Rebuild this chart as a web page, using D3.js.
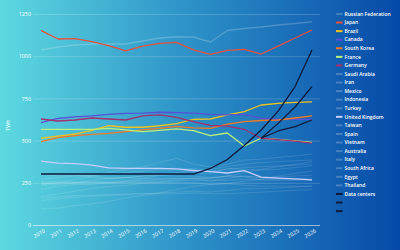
<!DOCTYPE html>
<html>
  <head>
    <script src="https://d3js.org/d3.v7.min.js"></script>
    <style>
      body { margin: 0; background: #0b4ea8; }
      text { font-family: "Open Sans", sans-serif; fill: #ffffff; }
    </style>
  </head>
  <body>
    <div id="chart"></div>
  <script>
    var width = 400,
        height = 250;

    // years on the x axis
    var years = d3.range(2010, 2027);
    var yTicks = [0, 250, 500, 750, 1000, 1250];

    // TWh per country, 2010 -> 2026
    var russia      = [1037, 1054, 1066, 1072, 1072, 1072, 1090, 1108, 1115, 1114, 1084, 1152, 1164, 1173, 1185, 1194, 1204];
    var japan       = [1153, 1102, 1104, 1086, 1062, 1031, 1060, 1076, 1082, 1037, 1011, 1035, 1040, 1013, 1060, 1108, 1155];
    var brazil      = [514, 527, 539, 560, 588, 579, 579, 588, 601, 626, 628, 652, 672, 711, 720, 726, 730];
    var canada      = [606, 631, 640, 646, 655, 661, 663, 668, 666, 663, 655, 652, 655, 631, 626, 626, 626];
    var southKorea  = [494, 518, 530, 537, 543, 553, 563, 572, 584, 575, 573, 598, 613, 619, 622, 634, 646];
    var france      = [567, 567, 566, 566, 573, 563, 553, 561, 569, 559, 530, 545, 468, 514, 507, 498, 490];
    var germany     = [628, 616, 622, 634, 628, 622, 646, 652, 638, 612, 590, 586, 567, 514, 506, 497, 485];
    var saudiArabia = [240, 250, 270, 290, 310, 330, 345, 370, 395, 360, 345, 360, 385, 390, 400, 410, 420];
    var iran        = [235, 240, 250, 265, 275, 280, 290, 300, 310, 320, 330, 345, 360, 370, 375, 380, 385];
    var mexico      = [270, 280, 290, 295, 300, 310, 320, 330, 330, 335, 320, 330, 340, 345, 350, 355, 360];
    var indonesia   = [170, 183, 200, 216, 228, 234, 248, 254, 267, 278, 274, 290, 310, 330, 345, 360, 375];
    var turkey      = [210, 230, 240, 240, 250, 260, 275, 295, 305, 305, 305, 335, 330, 325, 330, 340, 350];
    var uk          = [379, 367, 364, 355, 338, 336, 336, 335, 332, 323, 316, 308, 322, 284, 278, 273, 267];
    var taiwan      = [245, 250, 250, 255, 260, 260, 265, 270, 275, 275, 280, 290, 290, 280, 285, 290, 295];
    var spain       = [300, 290, 295, 280, 275, 280, 275, 275, 275, 275, 260, 275, 290, 280, 275, 275, 280];
    var vietnam     = [95, 100, 115, 125, 140, 160, 175, 190, 210, 230, 240, 245, 260, 270, 290, 305, 320];
    var australia   = [250, 250, 250, 250, 250, 255, 260, 260, 260, 265, 265, 265, 270, 270, 270, 270, 270];
    var italy       = [300, 300, 300, 290, 280, 280, 290, 295, 290, 290, 280, 290, 285, 265, 265, 265, 265];
    var southAfrica = [255, 260, 255, 255, 250, 250, 250, 250, 250, 250, 240, 245, 235, 230, 230, 230, 230];
    var egypt       = [145, 155, 165, 170, 175, 180, 185, 190, 195, 200, 195, 205, 215, 215, 220, 225, 230];
    var thailand    = [160, 165, 175, 175, 180, 185, 185, 185, 185, 190, 185, 185, 190, 195, 200, 205, 210];
    var dataCenters = [302, 302, 302, 302, 302, 302, 302, 302, 302, 302, 335, 388, 471, 563, 675, 820, 1037];
    // two further data-center paths, 2023 -> 2026
    var dcYears = [2023, 2024, 2025, 2026];
    var dataCentersMid = [514, 602, 699, 820];
    var dataCentersLow = [514, 557, 583, 622];

    var faint = "rgba(255,255,255,0.12)";

    var series = [
      { name: "Russian Federation", values: russia, color: "rgba(255,255,255,0.2)", w: 1.4 },
      { name: "Japan", values: japan, color: "#e8503c", w: 1.3 },
      { name: "Brazil", values: brazil, color: "#f0c21c", w: 1.3 },
      { name: "Canada", values: canada, color: "#5a4fd6", w: 1.3 },
      { name: "South Korea", values: southKorea, color: "#f27a22", w: 1.3 },
      { name: "France", values: france, color: "#b8f07c", w: 1.3 },
      { name: "Germany", values: germany, color: "#a3306f", w: 1.3 },
      { name: "Saudi Arabia", values: saudiArabia, color: faint, w: 1 },
      { name: "Iran", values: iran, color: faint, w: 1 },
      { name: "Mexico", values: mexico, color: faint, w: 1 },
      { name: "Indonesia", values: indonesia, color: faint, w: 1 },
      { name: "Turkey", values: turkey, color: faint, w: 1 },
      { name: "United Kingdom", values: uk, color: "#c6cdff", w: 1.3 },
      { name: "Taiwan", values: taiwan, color: faint, w: 1 },
      { name: "Spain", values: spain, color: faint, w: 1 },
      { name: "Vietnam", values: vietnam, color: faint, w: 1 },
      { name: "Australia", values: australia, color: faint, w: 1 },
      { name: "Italy", values: italy, color: faint, w: 1 },
      { name: "South Africa", values: southAfrica, color: faint, w: 1 },
      { name: "Egypt", values: egypt, color: faint, w: 1 },
      { name: "Thailand", values: thailand, color: faint, w: 1 },
      { name: "Data centers", values: dataCenters, color: "#0e1a3c", w: 1.3 },
      { name: "", values: dataCentersMid, xs: dcYears, color: "#0e1a3c", w: 1.3 },
      { name: "", values: dataCentersLow, xs: dcYears, color: "#0e1a3c", w: 1.3 }
    ];

    var svg = d3.select("#chart").append("svg")
        .attr("width", width)
        .attr("height", height);

    // background gradient
    var grad = svg.append("defs").append("linearGradient")
        .attr("id", "bg")
        .attr("x1", "0%").attr("y1", "0%")
        .attr("x2", "100%").attr("y2", "0%");
    grad.append("stop").attr("offset", "0%").attr("stop-color", "#5dd9e0");
    grad.append("stop").attr("offset", "45%").attr("stop-color", "#2f95c9");
    grad.append("stop").attr("offset", "100%").attr("stop-color", "#0649a8");

    svg.append("rect")
        .attr("width", width)
        .attr("height", height)
        .attr("fill", "url(#bg)");

    var x = d3.scaleLinear().domain([2010, 2026]).range([41, 312]);
    var y = d3.scaleLinear().domain([0, 1250]).range([225, 14]);

    // horizontal grid + y labels
    var gridLeft = 33, gridRight = 320;
    var yAxis = svg.append("g")
        .attr("transform", `translate(${gridLeft},0)`)
        .call(d3.axisLeft(y).tickValues(yTicks).tickFormat(d3.format("d"))
          .tickSize(-(gridRight - gridLeft)).tickPadding(2));
    yAxis.select(".domain").remove();
    yAxis.selectAll("line")
        .attr("stroke", "#ffffff")
        .attr("stroke-opacity", d => d === 0 ? 0.55 : 0.22)
        .attr("stroke-width", d => d === 0 ? 1 : 0.8);
    yAxis.selectAll("text")
        .style("font-size", "5.4px")
        .attr("fill", "#ffffff");

    // x labels
    var xAxis = svg.append("g")
        .attr("transform", "translate(0,225)")
        .call(d3.axisBottom(x).tickValues(years).tickSize(0).tickFormat(d3.format("d")));
    xAxis.select(".domain").remove();
    xAxis.selectAll("text")
        .style("font-size", "5.4px")
        .attr("fill", "#ffffff")
        .attr("text-anchor", "end")
        .attr("y", 0)
        .attr("dy", 0)
        .attr("transform", "translate(4,7) rotate(-30)");

    svg.append("text")
        .attr("transform", "translate(10,125) rotate(-90)")
        .attr("text-anchor", "middle")
        .style("font-size", "5.4px")
        .text("TWh");

    var line = d3.line()
        .x(d => x(d[0]))
        .y(d => y(d[1]));

    // faint lines first, then coloured ones on top
    var drawOrder = series.filter(s => s.color === faint)
        .concat(series.filter(s => s.color !== faint));

    svg.append("g")
      .selectAll("path")
      .data(drawOrder)
      .enter()
      .append("path")
        .attr("d", s => line(s.values.map((v, i) => [(s.xs || years)[i], v])))
        .attr("fill", "none")
        .attr("stroke", s => s.color)
        .attr("stroke-width", s => s.w)
        .attr("stroke-linejoin", "round");

    // legend
    var legend = svg.append("g")
        .attr("transform", "translate(336,14)");

    var rows = legend.selectAll("g")
      .data(series)
      .enter()
      .append("g")
        .attr("transform", (s, i) => `translate(0,${i * 8.57})`);

    rows.append("rect")
        .attr("x", 0)
        .attr("y", -1)
        .attr("width", 6.5)
        .attr("height", 2)
        .attr("fill", s => s.color === faint ? "rgba(255,255,255,0.22)" : s.color);

    rows.append("text")
        .attr("x", 8.5)
        .attr("dy", "0.35em")
        .style("font-size", "5px")
        .style("font-weight", 600)
        .text(s => s.name);
  </script>
  </body>
</html>
